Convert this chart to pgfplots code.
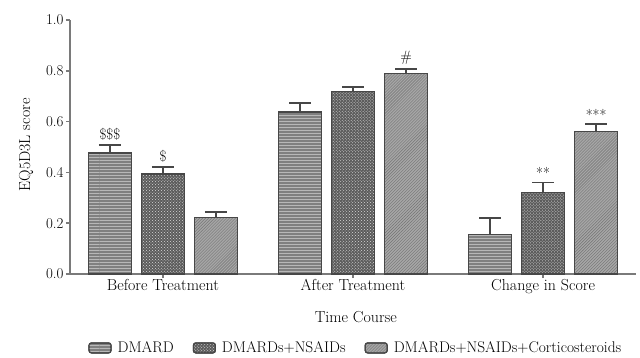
\documentclass[border=0pt]{standalone}
\usepackage{pgfplots}
\pgfplotsset{compat=1.18}
\usetikzlibrary{patterns}
\definecolor{axgray}{HTML}{7A7A7A}
\definecolor{edge}{HTML}{474747}
\begin{document}
\begin{tikzpicture}
\path[use as bounding box] (-70bp,-84bp) rectangle (570bp,274bp);
\begin{axis}[
  at={(0,0)}, anchor=south west,
  scale only axis, width=566bp, height=254bp,
  xmin=-0.489, xmax=2.489, ymin=0, ymax=1,
  axis x line=bottom, axis y line=left,
  axis line style={-, draw=axgray, line width=2.5bp},
  tick style={draw=axgray, line width=1.5bp},
  tick align=outside, major tick length=4bp,
  xtick={0,1,2},
  xticklabels={Before Treatment, After Treatment, Change in Score},
  ytick={0,0.2,0.4,0.6,0.8,1.0},
  /pgf/number format/fixed, /pgf/number format/fixed zerofill,
  /pgf/number format/precision=1, /pgf/number format/assume math mode=true,
  yticklabel style={font=\fontsize{15}{16}\selectfont, xshift=1bp},
  xticklabel style={font=\fontsize{16}{17}\selectfont, yshift=2bp},
  xlabel={Time Course},
  xlabel style={at={(axis description cs:0.505,-0.169)}, anchor=center, font=\fontsize{16}{17}\selectfont},
  ylabel={EQ5D3L score},
  ylabel style={at={(axis description cs:-0.0777,0.508)}, anchor=center, font=\fontsize{16}{17}\selectfont},
  ybar, bar width=43bp,
  legend columns=3,
  legend style={at={(axis description cs:0.505,-0.291)}, anchor=center, draw=none, fill=none,
    font=\fontsize{15.5}{16}\selectfont,
    /tikz/every odd column/.append style={column sep=4bp},
    /tikz/every even column/.append style={column sep=17bp}},
  legend image code/.code={\draw[#1, line width=1.2bp, rounded corners=2.5bp] (0bp,-5bp) rectangle (22bp,5bp);},
  error bars/y dir=plus, error bars/y explicit,
  error bars/error bar style={draw=edge, line width=1.8bp},
  error bars/error mark options={draw=edge, line width=1.8bp, mark size=11bp, rotate=90},
]
\addplot[bar shift=-53bp, draw=edge, line width=1.2bp, fill=black!50,
  postaction={pattern=horizontal lines, pattern color=black!28}]
  coordinates {(0,0.476) +- (0,0.032) (1,0.638) +- (0,0.035) (2,0.157) +- (0,0.063)};
\addplot[bar shift=0bp, draw=edge, line width=1.2bp, fill=black!64,
  postaction={pattern=crosshatch dots, pattern color=white!85!black}]
  coordinates {(0,0.394) +- (0,0.028) (1,0.717) +- (0,0.019) (2,0.320) +- (0,0.040)};
\addplot[bar shift=53bp, draw=edge, line width=1.2bp, fill=black!35,
  postaction={pattern=north east lines, pattern color=black!55}]
  coordinates {(0,0.224) +- (0,0.020) (1,0.790) +- (0,0.017) (2,0.560) +- (0,0.030)};
\legend{DMARD, DMARDs+NSAIDs, DMARDs+NSAIDs+Corticosteroids}
\node[anchor=south, font=\fontsize{15}{16}\selectfont] at (axis cs:-0.279,0.512) {\$\$\$};
\node[anchor=south, font=\fontsize{15}{16}\selectfont] at (axis cs:0,0.425) {\$};
\node[anchor=south, font=\fontsize{15}{16}\selectfont] at (axis cs:1.279,0.810) {\#};
\node[anchor=south, font=\fontsize{15}{16}\selectfont] at (axis cs:2,0.362) {**};
\node[anchor=south, font=\fontsize{15}{16}\selectfont] at (axis cs:2.279,0.592) {***};
\end{axis}
\end{tikzpicture}
\end{document}
